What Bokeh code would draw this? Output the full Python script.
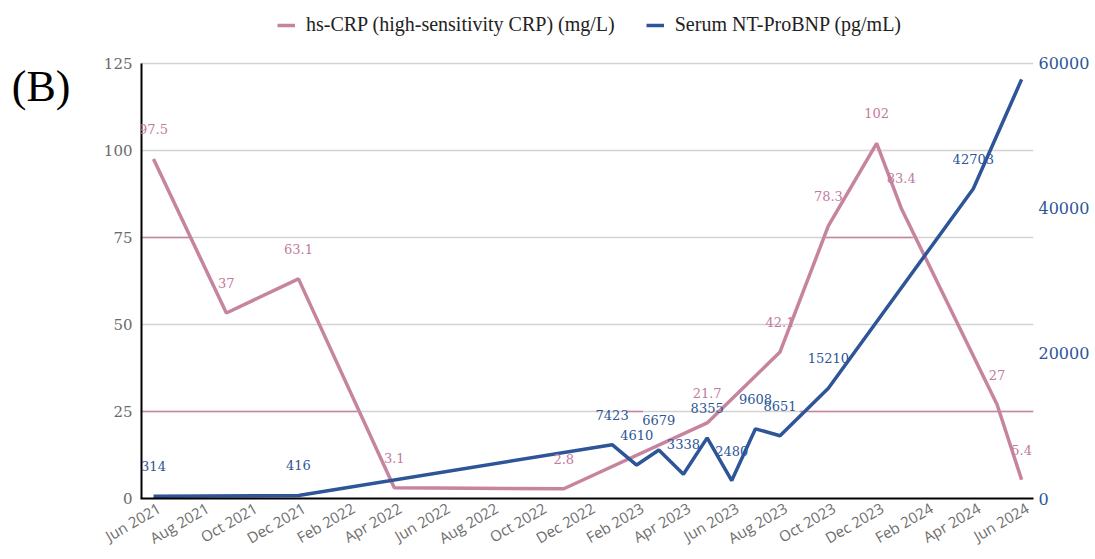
import math
import pandas as pd
from bokeh.plotting import figure
from bokeh.models import (Range1d, LinearAxis, FixedTicker, Legend, LegendItem,
                          ColumnDataSource)
from bokeh.embed import file_html
from bokeh.resources import INLINE
from bokeh.core.properties import value

# ---------------- data ----------------
crp_dates = ["2021-06-01", "2021-09-01", "2021-12-01", "2022-04-01", "2022-11-01",
             "2023-05-01", "2023-08-01", "2023-10-01", "2023-12-01", "2024-01-01",
             "2024-05-01", "2024-06-01"]
crp_values = [97.5, 53.3, 63.1, 3.1, 2.8, 21.7, 42.1, 78.3, 102, 83.4, 27, 5.4]
crp_labels = ["97.5", "37", "63.1", "3.1", "2.8", "21.7", "42.1", "78.3", "102",
              "83.4", "27", "5.4"]

bnp_dates = ["2021-06-01", "2021-12-01", "2023-01-01", "2023-02-01", "2023-03-01",
             "2023-04-01", "2023-05-01", "2023-06-01", "2023-07-01", "2023-08-01",
             "2023-10-01", "2024-04-01", "2024-06-01"]
bnp_values = [314, 416, 7423, 4610, 6679, 3338, 8355, 2480, 9608, 8651, 15210,
              42703, 57800]
bnp_labels = ["314", "416", "7423", "4610", "6679", "3338", "8355", "2480", "9608",
              "8651", "15210", "42703", ""]

tick_dates = ["2021-06-01", "2021-08-01", "2021-10-01", "2021-12-01", "2022-02-01",
              "2022-04-01", "2022-06-01", "2022-08-01", "2022-10-01", "2022-12-01",
              "2023-02-01", "2023-04-01", "2023-06-01", "2023-08-01", "2023-10-01",
              "2023-12-01", "2024-02-01", "2024-04-01", "2024-06-01"]
tick_labels = ["Jun 2021", "Aug 2021", "Oct 2021", "Dec 2021", "Feb 2022", "Apr 2022",
               "Jun 2022", "Aug 2022", "Oct 2022", "Dec 2022", "Feb 2023", "Apr 2023",
               "Jun 2023", "Aug 2023", "Oct 2023", "Dec 2023", "Feb 2024", "Apr 2024",
               "Jun 2024"]

crp_ticks = [0, 25, 50, 75, 100, 125]
bnp_ticks = [0, 20000, 40000, 60000]
CRP_MAX = 125
BNP_MAX = 60000

panel_tag = "(B)"
PANEL_TAG_Y = 118.4   # height (in hs-CRP units) where the panel tag sits

# pink accent pieces drawn over some grid lines in the original
accent_y = [75, 75, 25, 25, 25]
accent_start = ["2021-05-15", "2023-09-27", "2021-05-15", "2023-01-20", "2023-08-26"]
accent_end = ["2021-07-17", "2024-01-16", "2022-02-13", "2023-02-09", "2024-06-16"]

PINK = "#c6849f"
PINK_TXT = "#c27a9e"
BLUE = "#2e5597"
LABEL_SHIFT = pd.Timedelta(days=7)   # rotated month labels sit a little right of the month start

# layout (pixels): the plotting frame reaches up to the legend row so the legend
# can live inside it; the value axes still end at 125 / 60000 at y = 63.
FRAME_TOP, AXIS_TOP, FRAME_BOTTOM = 8, 63, 499
HEADROOM = (FRAME_BOTTOM - FRAME_TOP) / (FRAME_BOTTOM - AXIS_TOP)


def ms(d):
    return int((pd.Timestamp(d) + LABEL_SHIFT).value // 10**6)


crp_src = ColumnDataSource(dict(x=[pd.Timestamp(d) for d in crp_dates], y=crp_values,
                                label=crp_labels))
bnp_src = ColumnDataSource(dict(x=[pd.Timestamp(d) for d in bnp_dates], y=bnp_values,
                                label=bnp_labels))
acc_src = ColumnDataSource(dict(x0=[pd.Timestamp(d) for d in accent_start],
                                x1=[pd.Timestamp(d) for d in accent_end],
                                y=accent_y))

x_start = pd.Timestamp("2021-05-15 14:00")
x_end = pd.Timestamp("2024-06-16")

p = figure(width=1095, height=559, x_axis_type="datetime",
           x_range=Range1d(x_start, x_end), y_range=Range1d(0, CRP_MAX * HEADROOM),
           output_backend="svg", toolbar_location=None,
           min_border_left=140, min_border_right=62, min_border_top=FRAME_TOP,
           min_border_bottom=559 - FRAME_BOTTOM)
p.outline_line_color = None
p.background_fill_color = "white"
p.border_fill_color = "white"
p.extra_y_ranges = {"bnp": Range1d(0, BNP_MAX * HEADROOM)}

# grid
p.xgrid.visible = False
p.ygrid.ticker = FixedTicker(ticks=crp_ticks[1:])
p.ygrid.grid_line_color = "#d3d3d3"
p.ygrid.grid_line_width = 1.5

# pink accents over the grid lines (glyph level, so they cover the grey grid)
p.segment(x0="x0", y0="y", x1="x1", y1="y", source=acc_src, line_color=PINK,
          line_width=1.5)

# left value-axis line only from 0 to 125 (half of it is clipped at the frame edge)
p.segment(x0=[x_start], y0=[0], x1=[x_start], y1=[CRP_MAX], line_color="black",
          line_width=4)

# left axis
ya = p.yaxis[0]
ya.ticker = FixedTicker(ticks=crp_ticks)
ya.axis_line_color = None
ya.major_tick_line_color = None
ya.minor_tick_line_color = None
ya.major_tick_out = 0
ya.minor_tick_out = 0
ya.major_label_text_font = "DejaVu Serif"
ya.major_label_text_font_size = "15px"
ya.major_label_text_color = "#6a6a6a"
ya.major_label_standoff = 8

# outer left "axis" that only carries the panel tag (B)
tag_axis = LinearAxis(ticker=FixedTicker(ticks=[PANEL_TAG_Y]),
                      major_label_overrides={PANEL_TAG_Y: panel_tag})
tag_axis.axis_line_color = None
tag_axis.major_tick_line_color = None
tag_axis.minor_tick_line_color = None
tag_axis.major_tick_out = 0
tag_axis.minor_tick_out = 0
tag_axis.major_label_text_font = "Liberation Serif"
tag_axis.major_label_text_font_size = "44px"
tag_axis.major_label_text_color = "black"
tag_axis.major_label_standoff = 30
p.add_layout(tag_axis, "left")

# bottom axis
xa = p.xaxis[0]
xa.ticker = FixedTicker(ticks=[ms(d) for d in tick_dates])
xa.major_label_overrides = {ms(d): lab for d, lab in zip(tick_dates, tick_labels)}
xa.major_label_orientation = math.pi / 6
xa.axis_line_color = "black"
xa.axis_line_width = 2
xa.major_tick_line_color = None
xa.minor_tick_line_color = None
xa.major_tick_out = 0
xa.minor_tick_out = 0
xa.major_label_text_font = "Open Sans"
xa.major_label_text_font_size = "15px"
xa.major_label_text_color = "#6e6e6e"
xa.major_label_standoff = 8

# right axis
ra = LinearAxis(y_range_name="bnp", ticker=FixedTicker(ticks=bnp_ticks))
ra.axis_line_color = None
ra.major_tick_line_color = None
ra.minor_tick_line_color = None
ra.major_tick_out = 0
ra.minor_tick_out = 0
ra.major_label_text_font = "DejaVu Serif"
ra.major_label_text_font_size = "16px"
ra.major_label_text_color = BLUE
ra.major_label_standoff = 5
p.add_layout(ra, "right")

# lines
r_crp = p.line("x", "y", source=crp_src, line_color=PINK, line_width=3.5)
r_bnp = p.line("x", "y", source=bnp_src, line_color=BLUE, line_width=3.5,
               y_range_name="bnp")

# data labels
p.text("x", "y", text="label", source=crp_src, text_align="center",
       text_baseline="middle", y_offset=-30, text_font=value("DejaVu Serif"),
       text_font_size="13px", text_color=PINK_TXT)
p.text("x", "y", text="label", source=bnp_src, text_align="center",
       text_baseline="middle", y_offset=-30, text_font=value("DejaVu Serif"),
       text_font_size="13px", text_color=BLUE, y_range_name="bnp")

# legend (inside the frame, in the headroom row)
legend = Legend(items=[LegendItem(label="hs-CRP (high-sensitivity CRP) (mg/L)",
                                  renderers=[r_crp]),
                       LegendItem(label="Serum NT-ProBNP (pg/mL)", renderers=[r_bnp])],
                orientation="horizontal", location=(137, FRAME_BOTTOM - 37), padding=0,
                margin=0, spacing=31, glyph_width=18, glyph_height=22, label_standoff=11,
                background_fill_alpha=0, border_line_alpha=0,
                label_text_font="Liberation Serif", label_text_font_size="20px",
                label_text_color="#222222")
p.add_layout(legend)

open("out.html", "w").write(file_html(p, INLINE))
